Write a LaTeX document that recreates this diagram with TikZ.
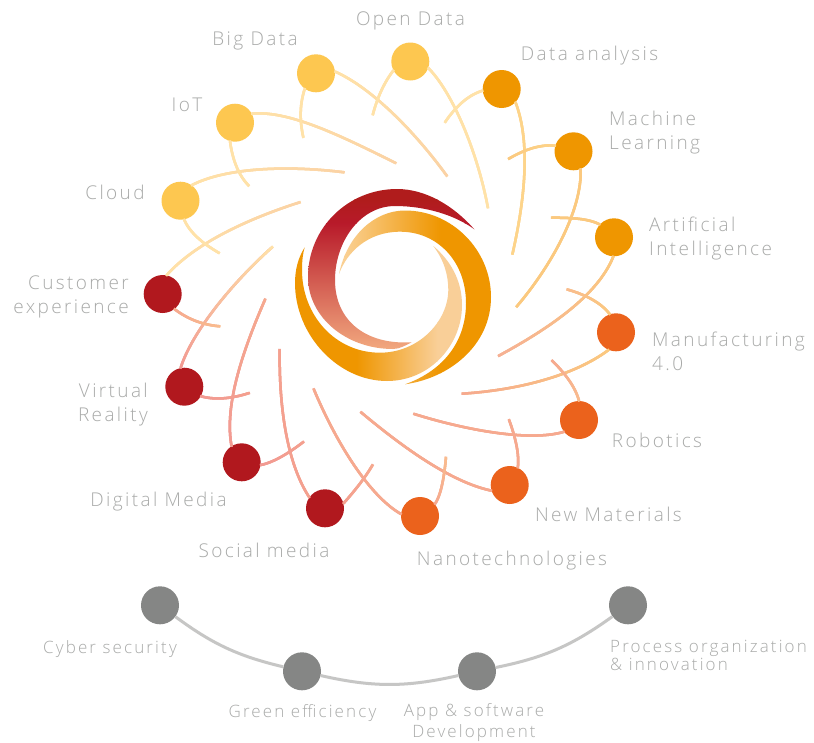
\documentclass[tikz,border=0pt]{standalone}
\usepackage{fontspec}
\setmainfont{Open Sans}[UprightFont=* Light,LetterSpace=12.5]
\usetikzlibrary{decorations.markings}
\definecolor{cyel}{HTML}{FDC750}
\definecolor{cora}{HTML}{EF9600}
\definecolor{cdor}{HTML}{EB621C}
\definecolor{cred}{HTML}{B1181E}
\definecolor{cgry}{HTML}{858685}
\definecolor{ltxt}{HTML}{A9AAA9}
\definecolor{gline}{HTML}{C6C6C5}
\definecolor{pYel}{HTML}{FFE2A8}
\definecolor{pYP}{HTML}{FBD2A5}
\definecolor{pOra}{HTML}{FDD48A}
\definecolor{pOrb}{HTML}{FBC97F}
\definecolor{pPea}{HTML}{F6B095}
\definecolor{pSal}{HTML}{F6A98F}
\definecolor{pLsa}{HTML}{F9BC8E}
\definecolor{pPnk}{HTML}{F29A92}
\definecolor{pPkl}{HTML}{F4A08F}
\tikzset{
  x=1pt,y=-1pt,
  dot/.style={circle,minimum size=38pt,inner sep=0pt,draw=none,fill=#1},
  lab/.style={inner sep=0pt,text=ltxt,font=\fontsize{19}{24}\selectfont},
  smallab/.style={inner sep=0pt,text=ltxt,font=\fontsize{17}{#1}\selectfont},
  link/.style 2 args={line width=2.5pt,draw=#1,postaction={decorate,decoration={markings,
    mark=between positions 0 and 1 step 1pt with {
      \pgfmathsetmacro\mixpct{100*(\pgfkeysvalueof{/pgf/decoration/mark info/distance from start}/\pgfdecoratedpathlength)}
      \fill[color={#2!\mixpct!#1}] (-0.9pt,-1.25pt) rectangle (0.9pt,1.25pt);}}}},
  greyline/.style={line width=3pt,draw=gline}
}
\begin{document}
\begin{tikzpicture}
\useasboundingbox (0,0) rectangle (814,742);
\fill[white] (0,0) rectangle (814,742);
% swirl
\begin{scope}
\clip (304.7,247.3) .. controls (298,258) and (295,270) .. (295,283)
  .. controls (295,335) and (338,381) .. (387,381)
  .. controls (430,381) and (462,345) .. (462,305)
  .. controls (462,280) and (450,260) .. (433.3,246)
  .. controls (444,260) and (448.3,275) .. (448.3,290)
  .. controls (448,322) and (418,352.7) .. (380,352.7)
  .. controls (335,352.7) and (302,315) .. (302,270)
  .. controls (302,260) and (303,253) .. (304.7,247.3) -- cycle;
\fill[color=cora] (280,230) rectangle (357,400);
\fill[color={rgb,255:red,249;green,207;blue,152}] (437,230) rectangle (480,400);
\shade[left color=cora,right color={rgb,255:red,249;green,207;blue,152}] (356.5,230) rectangle (437.5,400);
\end{scope}
\begin{scope}
\clip (339,274) .. controls (347,235) and (375,210.5) .. (405,210.5)
  .. controls (452,210.5) and (491,250) .. (491,297)
  .. controls (491,345) and (450,378) .. (405,384.3)
  .. controls (445,370) and (466,340) .. (466,303)
  .. controls (466,262) and (438,231.7) .. (400,231.7)
  .. controls (368,231.7) and (347,252) .. (339,274) -- cycle;
\fill[color=cora] (440,200) rectangle (500,400);
\fill[color={rgb,255:red,250;green,208;blue,147}] (330,200) rectangle (345,400);
\shade[left color={rgb,255:red,250;green,208;blue,147},right color=cora] (344.5,200) rectangle (440.5,400);
\end{scope}
\begin{scope}
\clip (474.3,229.3) .. controls (453,205) and (425,189) .. (397,189)
  .. controls (348,189) and (308,228) .. (308,277)
  .. controls (308,317) and (346,349) .. (393,349)
  .. controls (400,349) and (406,345) .. (411.7,342.3)
  .. controls (365,345) and (335,320) .. (335,280)
  .. controls (335,242) and (360,206) .. (395,206)
  .. controls (425,206) and (455,215) .. (474.3,229.3) -- cycle;
\fill[color={rgb,255:red,176;green,28;blue,28}] (300,180) rectangle (480,200);
\shade[top color={rgb,255:red,176;green,28;blue,28},bottom color={rgb,255:red,184;green,26;blue,42}] (300,199.5) rectangle (480,223.5);
\shade[top color={rgb,255:red,184;green,26;blue,42},bottom color={rgb,255:red,242;green,169;blue,127}] (300,223) rectangle (480,350);
\end{scope}
% nodes
\node[dot=cyel] (big) at (316,73.3) {};
\node[dot=cyel] (open) at (410.3,61.5) {};
\node[dot=cora] (da) at (501.7,89) {};
\node[dot=cora] (ml) at (573.5,151.3) {};
\node[dot=cora] (ai) at (614,237.3) {};
\node[dot=cdor] (mfg) at (616,332.3) {};
\node[dot=cdor] (rob) at (579,420) {};
\node[dot=cdor] (nm) at (509.7,485) {};
\node[dot=cdor] (nano) at (420,516) {};
\node[dot=cred] (soc) at (325,508.3) {};
\node[dot=cred] (dig) at (241.7,462.3) {};
\node[dot=cred] (vir) at (184.3,386.7) {};
\node[dot=cred] (cus) at (162.7,294) {};
\node[dot=cyel] (clo) at (180.5,200.7) {};
\node[dot=cyel] (iot) at (235,122.7) {};
\node[dot=cgry] (cyb) at (160,605.3) {};
\node[dot=cgry] (gre) at (302,671.3) {};
\node[dot=cgry] (app) at (477,671.3) {};
\node[dot=cgry] (pro) at (628,605.3) {};
% free ends
\foreach \n/\p in {e1/{395.7,163},e2/{447,176},e3/{488,208},e4/{344,172.3},e5/{300.7,202},e6/{272.7,246.7},e7/{265.3,299},e8/{279.7,349},e9/{313.7,389},e10/{360.7,412},e11/{413.3,413.7},e12/{462,393.7},e13/{498.3,356},e14/{516.3,307},e15/{512.3,254.7},
  s1/{249,186},s2/{303.3,137.3},s3/{372.7,115},s4/{219.7,253.3},s5/{219.7,326.3},s6/{249.3,393},s7/{303.7,441.7},s8/{373,464.3},s9/{446,456.7},s10/{509,419.7},s11/{551.7,360.3},s12/{566.7,289.3},s13/{551.3,217.7},s14/{508.3,159},s15/{445,122.3}}
  {\coordinate (\n) at (\p);}
% long connectors
\draw[link={pYel}{pYP}] (iot.28) .. controls (290,110) and (345,138) .. (e1);
\draw[link={pYel}{pYP}] (big.5) .. controls (372,88) and (415,132) .. (e2);
\draw[link={pYel}{pYel}] (open.-20) .. controls (452,92) and (477,150) .. (e3);
\draw[link={pYel}{pYP}] (clo.54) .. controls (225,168) and (285,165) .. (e4);
\draw[link={pYel}{pYP}] (cus.78) .. controls (195,243) and (250,218) .. (e5);
\draw[link={pPnk}{pYel}] (vir.101) .. controls (192,332) and (232,283) .. (e6);
\draw[link={pPnk}{pSal}] (dig.122) .. controls (224,405) and (243,350) .. (e7);
\draw[link={pPkl}{pPkl}] (soc.145) .. controls (285,460) and (279,400) .. (e8);
\draw[link={pSal}{pSal}] (nano.174) .. controls (368,495) and (335,440) .. (e9);
\draw[link={pSal}{pSal}] (nm.197) .. controls (450,482) and (400,445) .. (e10);
\draw[link={pSal}{pSal}] (rob.218) .. controls (530,442) and (465,430) .. (e11);
\draw[link={pOrb}{pSal}] (mfg.247) .. controls (575,375) and (520,390) .. (e12);
\draw[link={pOrb}{pPea}] (ai.268) .. controls (598,295) and (550,328) .. (e13);
\draw[link={pOrb}{pOrb}] (ml.292) .. controls (582,210) and (552,265) .. (e14);
\draw[link={pOra}{pOra}] (da.316) .. controls (530,140) and (526,195) .. (e15);
% short connectors
\draw[link={pYel}{pYel}] (iot.255) .. controls (232.6,160.7) and (238.9,175.7) .. (s1);
\draw[link={pYel}{pYel}] (big.234) .. controls (299.6,105) and (299.6,120.5) .. (s2);
\draw[link={pYel}{pYel}] (open.208) .. controls (384.7,81.7) and (377.5,96.7) .. (s3);
\draw[link={pYel}{pYel}] (clo.281) .. controls (189,231.2) and (200.9,242.6) .. (s4);
\draw[link={pSal}{pLsa}] (cus.308) .. controls (189,320) and (204,325) .. (s5);
\draw[link={pPnk}{pPkl}] (vir.-30) .. controls (214.6,400) and (230.5,399) .. (s6);
\draw[link={pPnk}{pPkl}] (dig.-8) .. controls (272,462.8) and (286.4,455) .. (s7);
\draw[link={pPkl}{pSal}] (soc.15) .. controls (355.7,489.7) and (365.6,477) .. (s8);
\draw[link={pSal}{pLsa}] (nano.39) .. controls (440,496.7) and (444,481) .. (s9);
\draw[link={pSal}{pSal}] (nm.65) .. controls (519.3,455.7) and (516.4,440) .. (s10);
\draw[link={pLsa}{pSal}] (rob.90) .. controls (576,389) and (567,375) .. (s11);
\draw[link={pOrb}{pLsa}] (mfg.109) .. controls (601.8,303.6) and (587,295) .. (s12);
\draw[link={pOrb}{pOrb}] (ai.138) .. controls (589.6,219) and (573.6,217.6) .. (s13);
\draw[link={pOra}{pOrb}] (ml.163) .. controls (541.2,144.3) and (525.7,148.8) .. (s14);
\draw[link={pYel}{pYel}] (da.185) .. controls (469,94.8) and (456.4,105.4) .. (s15);
% grey arc
\draw[greyline] (cyb) to[bend right=11.5] (gre);
\draw[greyline] (gre) to[bend right=12.8] (app);
\draw[greyline] (app) to[bend right=12.1] (pro);
% labels
\node[lab,anchor=base] (lbig) at (255,45) {Big Data};
\node[lab,anchor=base] (lopen) at (410.5,25) {Open Data};
\node[lab,anchor=base] (lda) at (589.5,60) {Data analysis};
\node[lab,anchor=west,align=left] (lml) at (609,133) {Machine\\Learning};
\node[lab,anchor=west,align=left] (lai) at (649,239) {Artificial\\Intelligence};
\node[lab,anchor=west,align=left] (lmfg) at (652,351.5) {Manufacturing\\4.0};
\node[lab,anchor=base] (lrob) at (657,447) {Robotics};
\node[lab,anchor=base] (lnm) at (608.5,521) {New Materials};
\node[lab,anchor=base] (lnano) at (512,565) {Nanotechnologies};
\node[lab,anchor=base] (lsoc) at (264,557) {Social media};
\node[lab,anchor=base] (ldig) at (158.5,506) {Digital Media};
\node[lab,anchor=east,align=right] (lvir) at (148,405) {Virtual\\Reality};
\node[lab,anchor=east,align=right] (lcus) at (129,297) {Customer\\experience};
\node[lab,anchor=base] (lclo) at (115,199) {Cloud};
\node[lab,anchor=base] (liot) at (187,111) {IoT};
\node[smallab=21,anchor=base] (lcyb) at (110,653) {Cyber security};
\node[smallab=21,anchor=base] (lgre) at (302.5,717) {Green efficiency};
\node[smallab=21,align=center] (lapp) at (474,723) {App \& software\\Development};
\node[smallab=18,anchor=west,align=left] (lpro) at (610,655) {Process organization\\\& innovation};
\end{tikzpicture}
\end{document}
